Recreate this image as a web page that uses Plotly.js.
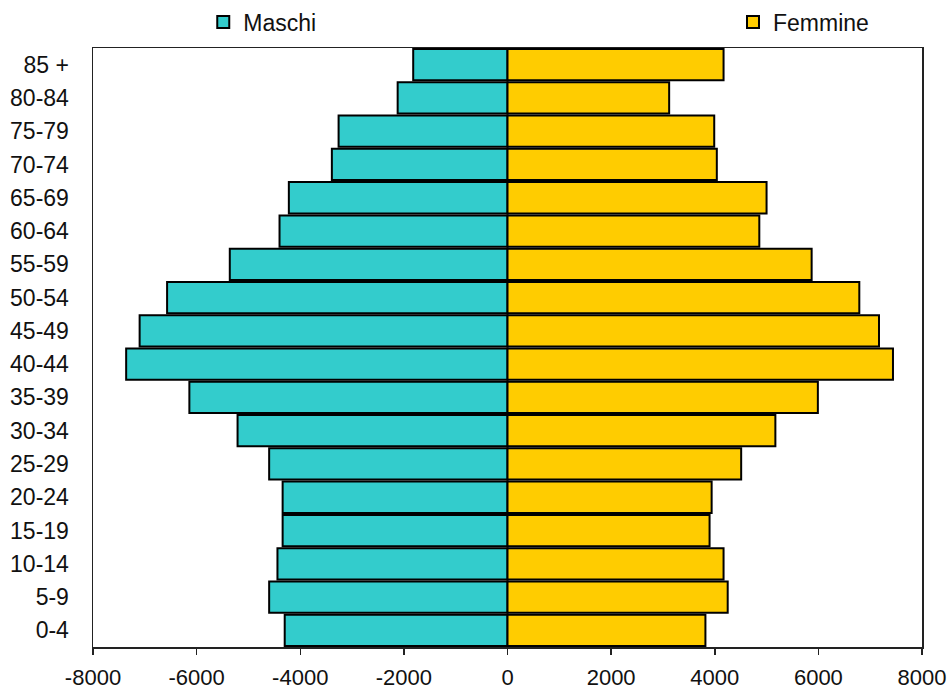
<!DOCTYPE html>
<html>
<head>
<meta charset="utf-8">
<script src="https://cdn.plot.ly/plotly-3.0.1.min.js"></script>
<style>html,body{margin:0;padding:0;background:#fff;}#chart{width:951px;height:693px;}</style>
</head>
<body>
<div id="chart"></div>
<script>
const ageGroups = ["0-4","5-9","10-14","15-19","20-24","25-29","30-34","35-39","40-44","45-49","50-54","55-59","60-64","65-69","70-74","75-79","80-84","85 +"];
const maschi = [-4300,-4600,-4440,-4340,-4340,-4600,-5210,-6140,-7360,-7100,-6570,-5360,-4400,-4220,-3390,-3260,-2120,-1820];
const femmine = [3820,4250,4170,3900,3940,4510,5170,5990,7440,7170,6790,5870,4860,5000,4040,3990,3120,4170];
const xTickVals = [-8000,-6000,-4000,-2000,0,2000,4000,6000,8000];
const xTickText = ["-8000","-6000","-4000","-2000","0","2000","4000","6000","8000"];

const fontFam = "Arial, 'Liberation Sans', sans-serif";
const txtColor = "#111";

const traces = [
  {type:'bar', orientation:'h', name:'Maschi', y:ageGroups, x:maschi,
   marker:{color:'#33CCCC', line:{color:'#000', width:2}}, legend:'legend', hoverinfo:'skip'},
  {type:'bar', orientation:'h', name:'Femmine', y:ageGroups, x:femmine,
   marker:{color:'#FFCC00', line:{color:'#000', width:2}}, legend:'legend2', hoverinfo:'skip'}
];

const layout = {
  width:951, height:693,
  margin:{l:93, r:29, t:48, b:46, autoexpand:false},
  paper_bgcolor:'#fff', plot_bgcolor:'#fff',
  font:{family:fontFam, size:23, color:txtColor},
  barmode:'overlay', bargap:0.06,
  showlegend:true,
  legend:{x:0.133, y:1.0435, xanchor:'left', yanchor:'middle', orientation:'h',
          font:{family:fontFam, size:23, color:txtColor}, bgcolor:'rgba(0,0,0,0)'},
  legend2:{x:0.772, y:1.0435, xanchor:'left', yanchor:'middle', orientation:'h',
          font:{family:fontFam, size:23, color:txtColor}, bgcolor:'rgba(0,0,0,0)'},
  xaxis:{range:[-8000,8000], tickvals:xTickVals, ticktext:xTickText,
         showgrid:false, zeroline:false, showline:true, linecolor:'#222', linewidth:1.5,
         mirror:true, ticks:'outside', ticklen:6, tickcolor:'#222', tickwidth:1.5,
         ticklabelstandoff:4, tickfont:{family:fontFam, size:22, color:txtColor}, fixedrange:true},
  xaxis2:{range:[-8000,8000], overlaying:'x', anchor:'y', side:'bottom', tickvals:xTickVals,
          showticklabels:false, showgrid:false, zeroline:false, showline:false,
          ticks:'inside', ticklen:5, tickcolor:'#222', tickwidth:1.5},
  yaxis:{type:'category', categoryorder:'array', categoryarray:ageGroups,
         showgrid:false, zeroline:false, showline:true, linecolor:'#222', linewidth:1.5,
         mirror:true, ticks:'', ticklabelstandoff:18,
         tickfont:{family:fontFam, size:23, color:txtColor}, fixedrange:true}
};

Plotly.newPlot('chart', traces, layout, {displayModeBar:false, staticPlot:true});
</script>
</body>
</html>
